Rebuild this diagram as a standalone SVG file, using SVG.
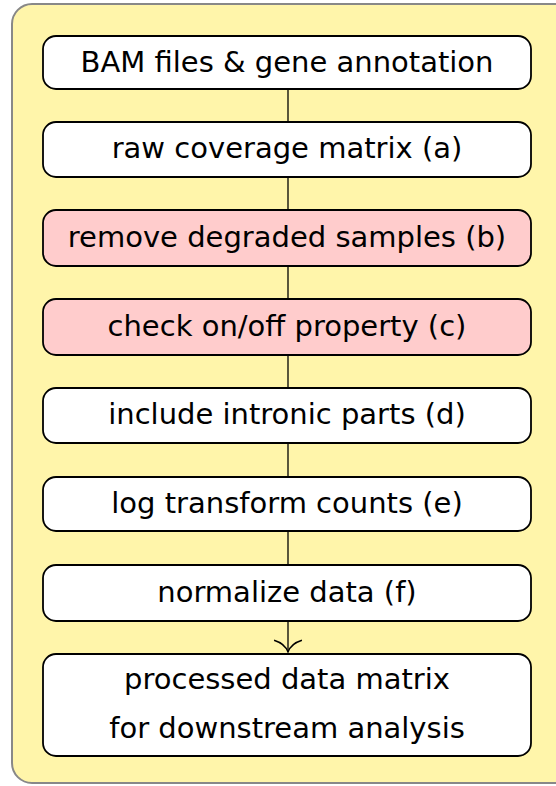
<svg xmlns="http://www.w3.org/2000/svg" width="556" height="786" viewBox="0 0 556 786">
<style>
.bx{fill:#ffffff;stroke:#000;stroke-width:1.8}
.pk{fill:#ffcccc}
.t{font-family:"DejaVu Sans","Liberation Sans",sans-serif;font-size:29px;fill:#000;text-anchor:middle}
.c{stroke:#000;stroke-width:1.3;fill:none}
</style>
<defs>
<marker id="ah" markerWidth="30" markerHeight="20" viewBox="-14 -13 28 15" refX="0" refY="0" markerUnits="userSpaceOnUse" orient="0">
<path d="M-13,-11 Q-3,-8 0,0 Q3,-8 13,-11" fill="none" stroke="#000" stroke-width="1.3"/>
</marker>
</defs>
<rect x="12" y="4" width="562" height="779" rx="20" fill="#fff5aa" stroke="#888" stroke-width="2"/>
<g id="connectors">
<line class="c" x1="288" y1="89" x2="288" y2="122"/>
<line class="c" x1="288" y1="177" x2="288" y2="210"/>
<line class="c" x1="288" y1="266" x2="288" y2="299"/>
<line class="c" x1="288" y1="355" x2="288" y2="388"/>
<line class="c" x1="288" y1="443" x2="288" y2="477"/>
<line class="c" x1="288" y1="531" x2="288" y2="565"/>
<line class="c" x1="288" y1="621" x2="288" y2="652" marker-end="url(#ah)"/>
</g>
<g id="n1"><rect class="bx" x="43" y="36" width="488" height="53" rx="13"/><text class="t" x="287" y="72">BAM files &amp; gene annotation</text></g>
<g id="n2"><rect class="bx" x="43" y="122" width="488" height="55" rx="13"/><text class="t" x="287" y="158">raw coverage matrix (a)</text></g>
<g id="n3"><rect class="bx pk" x="43" y="210" width="488" height="56" rx="13"/><text class="t" x="287" y="247">remove degraded samples (b)</text></g>
<g id="n4"><rect class="bx pk" x="43" y="299" width="488" height="56" rx="13"/><text class="t" x="287" y="336">check on/off property (c)</text></g>
<g id="n5"><rect class="bx" x="43" y="388" width="488" height="55" rx="13"/><text class="t" x="287" y="424">include intronic parts (d)</text></g>
<g id="n6"><rect class="bx" x="43" y="477" width="488" height="54" rx="13"/><text class="t" x="287" y="513">log transform counts (e)</text></g>
<g id="n7"><rect class="bx" x="43" y="565" width="488" height="56" rx="13"/><text class="t" x="287" y="602">normalize data (f)</text></g>
<g id="n8"><rect class="bx" x="43" y="654" width="488" height="102" rx="13"/><text class="t" x="287" y="689">processed data matrix</text><text class="t" x="287" y="738">for downstream analysis</text></g>
</svg>
